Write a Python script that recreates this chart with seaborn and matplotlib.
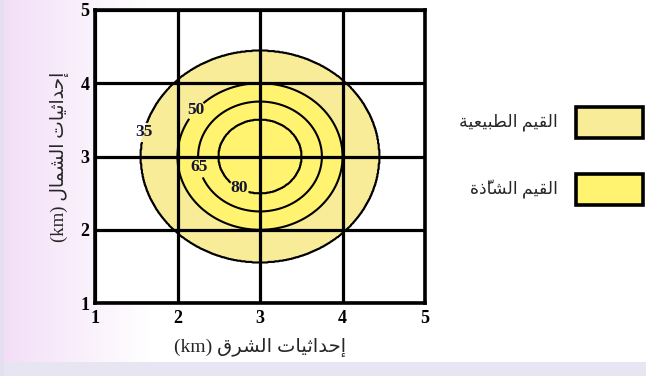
import numpy as np
import matplotlib
matplotlib.use("Agg")
import matplotlib.pyplot as plt
import seaborn as sns
from matplotlib.patches import Rectangle

# Données
levels = [35, 50, 65, 80]
radii = [1.45, 1.0, 0.75, 0.5]       # rayon (km) de chaque isoligne
center = (3.0, 3.0)
ticks = [1, 2, 3, 4, 5]
label_pos = [(1.59, 3.33), (2.23, 3.62), (2.26, 2.85), (2.73, 2.51)]

xlabel_ar = "إحداثيات الشرق"
ylabel_ar = "إحداثيات الشمال"
legend_labels = ["القيم الطبيعية", "القيم الشاذّة"]
legend_colors = ["#f8ec98", "#fff370"]

# Formes de présentation arabes (matplotlib ne fait pas le shaping)
ISO = {'ا': 0xFE8D, 'إ': 0xFE87, 'ب': 0xFE8F, 'ة': 0xFE93, 'ت': 0xFE95, 'ث': 0xFE99,
       'ح': 0xFEA1, 'د': 0xFEA9, 'ذ': 0xFEAB, 'ر': 0xFEAD, 'ش': 0xFEB5, 'ط': 0xFEC1,
       'ع': 0xFEC9, 'ق': 0xFED5, 'ل': 0xFEDD, 'م': 0xFEE1, 'ي': 0xFEF1}
RIGHT_ONLY = set('اإةدذر')


def shape(text):
    clusters = []
    for c in text:
        if c == '\u0651' and clusters:
            clusters[-1][1] += c
        else:
            clusters.append([c, ''])
    out = []
    for i, (c, m) in enumerate(clusters):
        if c not in ISO:
            out.append(c + m)
            continue
        prev = clusters[i - 1][0] if i > 0 else ''
        nxt = clusters[i + 1][0] if i + 1 < len(clusters) else ''
        jp = prev in ISO and prev not in RIGHT_ONLY
        jn = c not in RIGHT_ONLY and nxt in ISO
        k = ISO[c] + (3 if jp and jn else 2 if jn else 1 if jp else 0)
        out.append(chr(k) + m)
    return ''.join(out[::-1])


sns.set_theme(style="white")
plt.rcParams['font.family'] = ['Liberation Serif', 'DejaVu Sans']
fam = ['Liberation Serif', 'DejaVu Sans']

fig = plt.figure(figsize=(6.46, 3.76), dpi=100)

# Fond dégradé (bande rose à gauche, bande lavande en bas)
H, W = 376, 646
xs = np.linspace(0, 1, W)
t = np.clip(xs * W / 150, 0, 1)[None, :, None]
left = np.array([0.95, 0.87, 0.97])
img = left * (1 - t) + np.ones(3) * t
img = np.repeat(img, H, axis=0)
img[-14:, :, :] = np.array([0.91, 0.90, 0.95])
img[:, :4, :] = np.array([0.90, 0.88, 0.94])
bg = fig.add_axes([0, 0, 1, 1], zorder=-10)
bg.imshow(img, aspect='auto', extent=[0, 1, 0, 1])
bg.axis('off')

ax = fig.add_axes([95 / 646, 1 - 303 / 376, 330 / 646, 293 / 376])

gx, gy = np.meshgrid(np.linspace(1, 5, 500), np.linspace(1, 5, 500))
r = np.hypot(gx - center[0], gy - center[1])
field = np.interp(r, radii[::-1], levels[::-1], left=levels[-1] + 10, right=levels[0] - 10)

ax.contourf(gx, gy, field, levels=[levels[0], levels[1], 200], colors=legend_colors, zorder=1)
cs = ax.contour(gx, gy, field, levels=levels, colors='black', linewidths=1.5, zorder=2)
ax.clabel(cs, fmt='%d', manual=label_pos, inline=True, inline_spacing=2, fontsize=12.5)
for txt in cs.labelTexts:
    txt.set_fontweight('bold')
    txt.set_color('#151530')
    txt.set_rotation(0)

ax.set_xlim(1, 5)
ax.set_ylim(1, 5)
ax.set_xticks(ticks)
ax.set_yticks(ticks)
ax.set_xticklabels([str(v) for v in ticks], fontweight='bold', fontsize=13)
ax.set_yticklabels([str(v) for v in ticks], fontweight='bold', fontsize=13)
ax.tick_params(axis='x', length=0, pad=5, colors='black')
ax.tick_params(axis='y', length=0, pad=4, colors='black')
ax.set_facecolor('white')
ax.grid(True, color='black', linewidth=2.3)
ax.set_axisbelow(False)
for s in ax.spines.values():
    s.set_color('black')
    s.set_linewidth(2.6)

ax.set_xlabel("(km) " + shape(xlabel_ar), fontsize=14, family=fam, labelpad=8)
ax.set_ylabel("(km) " + shape(ylabel_ar), fontsize=13.5, family=fam, labelpad=8)

# Légende manuelle
box_y = [107, 174]
for lab, col, y in zip(legend_labels, legend_colors, box_y):
    fig.add_artist(Rectangle((576 / W, 1 - (y + 31) / H), 67 / W, 31 / H,
                             transform=fig.transFigure, facecolor=col,
                             edgecolor='black', linewidth=2.6))
    fig.text(558 / W, 1 - (y + 15) / H, shape(lab), ha='right', va='center',
             fontsize=12.5, family=fam)

fig.savefig("out.png", dpi=100)
